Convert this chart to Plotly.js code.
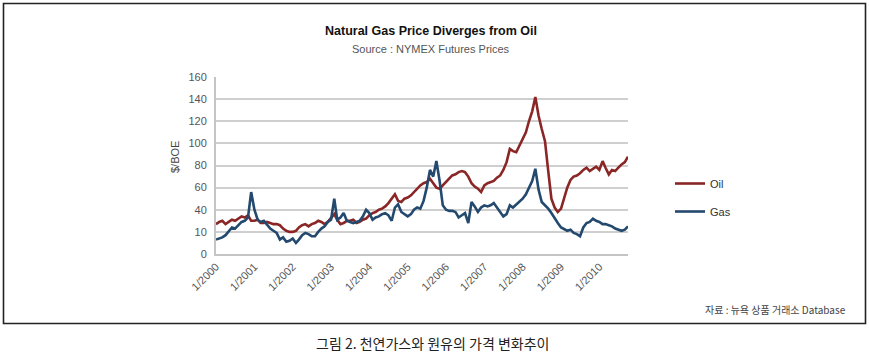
<!DOCTYPE html>
<html>
<head>
<meta charset="utf-8">
<script src="https://cdn.plot.ly/plotly-3.0.1.min.js"></script>
<style>
html,body{margin:0;padding:0;background:#fff;}
#chart{width:869px;height:357px;}
</style>
</head>
<body>
<div id="chart"></div>
<script>
// ---- Data (monthly) ----
const startYear = 2000;
const oil = [
  27, 29, 30, 27, 29, 31, 30, 32, 34, 33, 35, 30,   // 2000
  30, 31, 28, 28, 29, 28, 27, 27, 26, 23, 21, 20,   // 2001
  20, 21, 24, 26, 27, 25, 27, 28, 30, 29, 27, 29,   // 2002
  33, 36, 31, 27, 28, 30, 30, 31, 28, 29, 31, 32,   // 2003
  35, 37, 38, 40, 41, 43, 46, 50, 54, 48, 47, 50,   // 2004
  51, 53, 56, 59, 62, 64, 65, 68, 64, 60, 59, 62,   // 2005
  65, 68, 71, 72, 74, 75, 74, 70, 64, 61, 59, 56,   // 2006
  62, 64, 65, 66, 69, 71, 76, 83, 95, 93, 92, 98,   // 2007
  104, 110, 120, 129, 142, 125, 113, 102, 75, 50, 42, 38, // 2008
  41, 52, 60, 67, 70, 71, 73, 76, 78, 75, 77, 79,   // 2009
  76, 84, 78, 72, 76, 75, 78, 81, 83, 88            // 2010
];
const gas = [
  13, 14, 15, 17, 20, 24, 23, 26, 29, 30, 33, 56,   // 2000
  40, 31, 29, 30, 27, 23, 21, 19, 13, 15, 11, 12,   // 2001
  14, 10, 13, 17, 19, 18, 16, 16, 20, 23, 25, 29,   // 2002
  31, 50, 31, 33, 37, 30, 29, 28, 29, 30, 34, 40,   // 2003
  37, 31, 33, 34, 36, 37, 35, 30, 42, 45, 38, 36,   // 2004
  34, 36, 40, 42, 41, 48, 60, 76, 70, 84, 66, 44,   // 2005
  40, 39, 39, 38, 33, 35, 37, 28, 47, 43, 38, 42,   // 2006
  44, 43, 44, 46, 42, 38, 34, 36, 44, 42, 45, 47,   // 2007
  50, 54, 60, 66, 77, 58, 47, 44, 41, 37, 32, 28,   // 2008
  24, 22, 21, 22, 19, 18, 16, 24, 28, 29, 32, 30,   // 2009
  29, 27, 27, 26, 25, 23, 22, 21, 22, 25            // 2010
];
const tickYears = [2000, 2001, 2002, 2003, 2004, 2005, 2006, 2007, 2008, 2009, 2010];
const xTickText = ["1/2000","1/2001","1/2002","1/2003","1/2004","1/2005","1/2006","1/2007","1/2008","1/2009","1/2010"];
const yTickVals = [0, 20, 40, 60, 80, 100, 120, 140, 160];
const yTickText = ["0", "10", "40", "60", "80", "100", "120", "140", "160"];
const seriesNames = ["Oil", "Gas"];
const titleText = "Natural Gas Price Diverges from Oil";
const subtitleText = "Source : NYMEX Futures Prices";
const yTitle = "$/BOE";
const sourceNote = "자료 : 뉴욕 상품 거래소 Database";
const caption = "그림 2. 천연가스와 원유의 가격 변화추이";

// month dates for the x axis
const dates = oil.map((_, i) => {
  const y = startYear + Math.floor(i / 12);
  const m = (i % 12) + 1;
  return y + "-" + String(m).padStart(2, "0") + "-01";
});
const tickVals = tickYears.map(y => y + "-01-01");

// ---- Layout geometry ----
const W = 869, H = 357;
const L = 216, R = 628, T = 77, B = 254;
const px = x => (x - L) / (R - L);
const py = y => (B - y) / (B - T);

const FONT = "Liberation Sans, Arial, sans-serif";
const KFONT = "Noto Sans CJK KR, sans-serif";

const traces = [
  {x: dates, y: oil, name: seriesNames[0], type: "scatter", mode: "lines",
   line: {color: "#8a2626", width: 2.6}, legendgroup: "a"},
  {x: dates, y: gas, name: seriesNames[1], type: "scatter", mode: "lines",
   line: {color: "#23496f", width: 2.6}, legendgroup: "b"}
];

const layout = {
  width: W, height: H,
  margin: {l: L, r: W - R, t: T, b: H - B, pad: 0},
  paper_bgcolor: "#fff", plot_bgcolor: "#fff",
  font: {family: FONT, size: 11, color: "#444"},
  showlegend: true,
  legend: {
    x: px(670), y: py(169), xanchor: "left", yanchor: "top",
    traceorder: "grouped", tracegroupgap: 9,
    font: {family: FONT, size: 11, color: "#333"},
    bgcolor: "rgba(0,0,0,0)", borderwidth: 0
  },
  xaxis: {
    type: "date",
    range: [dates[0], dates[dates.length - 1]],
    tickmode: "array", tickvals: tickVals, ticktext: xTickText,
    tickangle: -45, ticks: "", showgrid: false, zeroline: false,
    showline: true, linecolor: "#c4c4c4", linewidth: 2,
    tickfont: {family: FONT, size: 11, color: "#555"},
    fixedrange: true
  },
  yaxis: {
    range: [0, 160], tickmode: "array", tickvals: yTickVals, ticktext: yTickText,
    ticks: "", showgrid: true, gridcolor: "#cfcfcf", gridwidth: 2,
    zeroline: false, showline: true, linecolor: "#c4c4c4", linewidth: 2,
    ticklabelstandoff: 5,
    tickfont: {family: FONT, size: 11, color: "#555"},
    fixedrange: true
  },
  annotations: [
    {text: "<b>" + titleText + "</b>", xref: "paper", yref: "paper", x: px(431), y: py(31),
     xanchor: "center", yanchor: "middle", showarrow: false,
     font: {family: FONT, size: 12.5, color: "#111"}},
    {text: subtitleText, xref: "paper", yref: "paper", x: px(431), y: py(49),
     xanchor: "center", yanchor: "middle", showarrow: false,
     font: {family: FONT, size: 11, color: "#555"}},
    {text: yTitle, xref: "paper", yref: "paper", x: px(175), y: py(157),
     xanchor: "center", yanchor: "middle", showarrow: false, textangle: -90,
     font: {family: FONT, size: 11, color: "#444"}},
    {text: sourceNote, xref: "paper", yref: "paper", x: px(848), y: py(309),
     xanchor: "right", yanchor: "middle", showarrow: false,
     font: {family: KFONT, size: 10, color: "#444"}},
    {text: caption, xref: "paper", yref: "paper", x: px(432), y: py(343),
     xanchor: "center", yanchor: "middle", showarrow: false,
     font: {family: KFONT, size: 14, color: "#222"}}
  ],
  shapes: [
    {type: "rect", xref: "paper", yref: "paper", x0: px(3.5), x1: px(865.5), y0: py(323.5), y1: py(3.5),
     line: {color: "#222", width: 1.6}, fillcolor: "rgba(0,0,0,0)", layer: "below"}
  ]
};

Plotly.newPlot("chart", traces, layout, {staticPlot: true, displayModeBar: false});
</script>
</body>
</html>
